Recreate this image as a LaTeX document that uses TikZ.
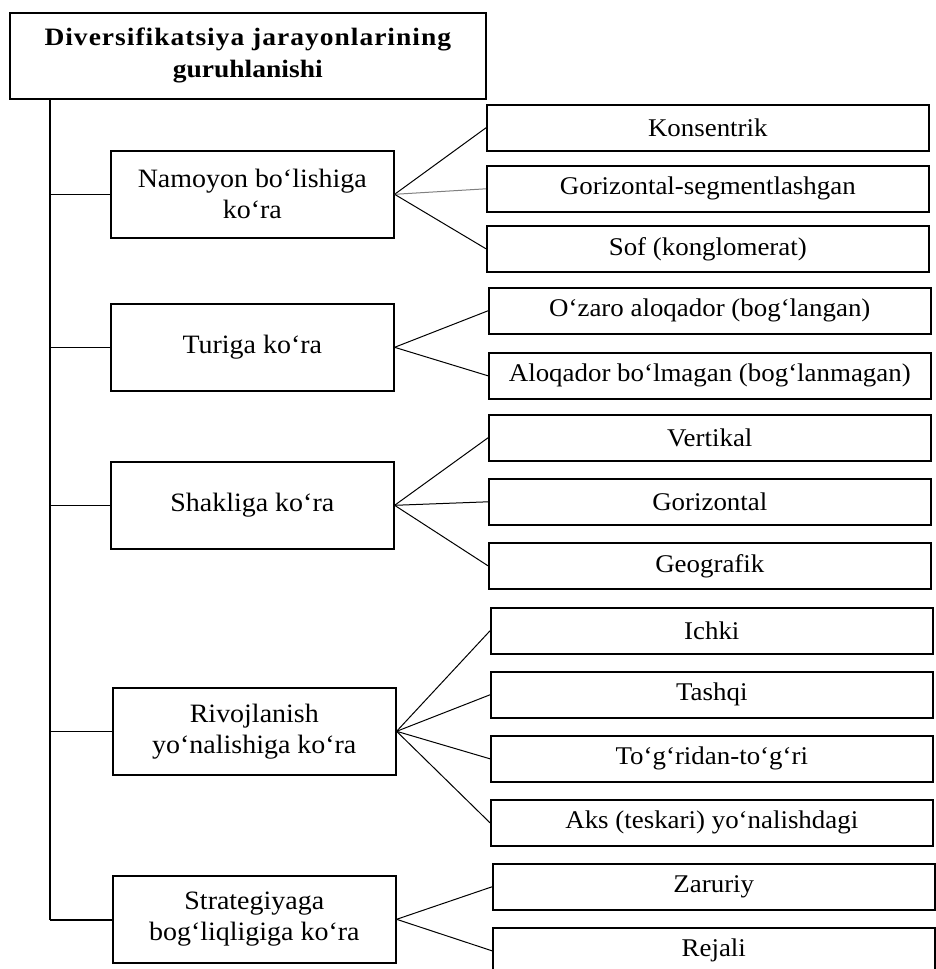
\documentclass[tikz,border=0pt]{standalone}
\usepackage{fontspec}
\setmainfont{Liberation Serif}[FakeStretch=1.055]
\newfontfamily\titlefont{Liberation Serif}[FakeStretch=1.1]
\begin{document}
\begin{tikzpicture}[x=1pt,y=-1pt,
  box/.style={draw, line width=1.6pt, inner sep=0pt, align=center, anchor=north west,
    font=\fontsize{25.5}{30}\selectfont},
  parent/.style={box, minimum width=283pt, minimum height=87pt,
    font=\fontsize{26.5}{31}\selectfont},
  child/.style={box, minimum width=442pt, minimum height=46pt},
  conn/.style={line width=1.1pt},
  fan/.style={line width=1pt}]
\useasboundingbox (0,0) rectangle (936,969);
\node[box, minimum width=476pt, minimum height=86pt,
  font=\titlefont\bfseries\fontsize{25}{32}\selectfont] (t) at (9,12)
  {{\addfontfeature{LetterSpace=4}Diversifikatsiya jarayonlarining}\\guruhlanishi};
% parents
\node[parent] (p1) at (110,150) {Namoyon bo‘lishiga\\ko‘ra};
\node[parent] (p2) at (110,303) {Turiga ko‘ra};
\node[parent] (p3) at (110,461) {Shakliga ko‘ra};
\node[parent] (p4) at (112,687) {Rivojlanish\\yo‘nalishiga ko‘ra};
\node[parent] (p5) at (112,875) {Strategiyaga\\bog‘liqligiga ko‘ra};
% children
\node[child] (c1) at (486,104) {Konsentrik};
\node[child] (c2) at (486,165) {Gorizontal-segmentlashgan};
\node[child] (c3) at (486,225) {Sof (konglomerat)};
\node[child] (c4) at (488,287) {O‘zaro aloqador (bog‘langan)};
\node[child] (c5) at (488,352) {Aloqador bo‘lmagan (bog‘lanmagan)};
\node[child] (c6) at (488,414) {Vertikal};
\node[child] (c7) at (488,478) {Gorizontal};
\node[child] (c8) at (488,542) {Geografik};
\node[child] (c9) at (490,607) {Ichki};
\node[child] (c10) at (490,671) {Tashqi};
\node[child] (c11) at (490,735) {To‘g‘ridan-to‘g‘ri};
\node[child] (c12) at (490,799) {Aks (teskari) yo‘nalishdagi};
\node[child] (c13) at (492,863) {Zaruriy};
\node[child] (c14) at (492,927) {Rejali};
% trunk
\coordinate (trtop) at (50,98);
\coordinate (trbot) at (50,920);
\draw[conn] (trtop) -- (trbot);
\foreach \p in {p1,p2,p3,p4} \draw[conn] (\p.west -| trtop) -- (\p.west);
\draw[conn] (trbot) -- (trbot -| p5.west);
% fans
\draw[fan] (p1.east) -- (c1.west);
\draw[fan, gray] (p1.east) -- (c2.west);
\draw[fan] (p1.east) -- (c3.west);
\foreach \c in {c4,c5} \draw[fan] (p2.east) -- (\c.west);
\foreach \c in {c6,c7,c8} \draw[fan] (p3.east) -- (\c.west);
\foreach \c in {c9,c10,c11,c12} \draw[fan] (p4.east) -- (\c.west);
\foreach \c in {c13,c14} \draw[fan] (p5.east) -- (\c.west);
\end{tikzpicture}
\end{document}
